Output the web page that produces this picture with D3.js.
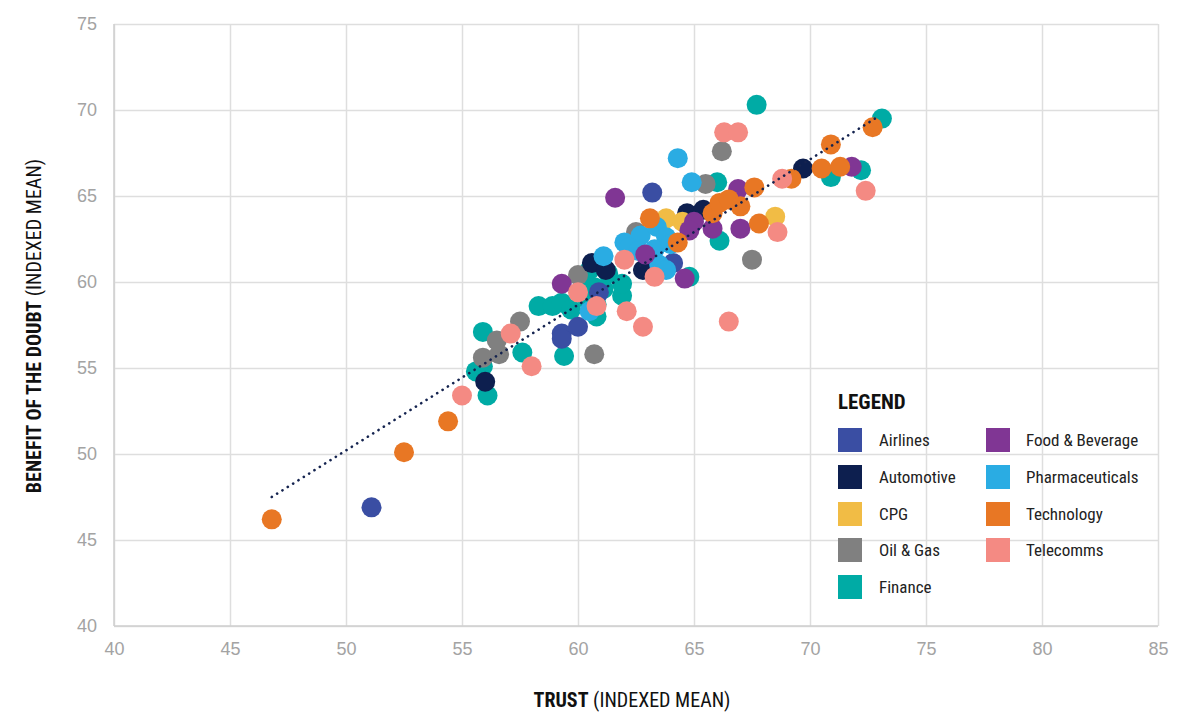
<!DOCTYPE html>
<html>
<head>
<meta charset="utf-8">
<script src="https://cdn.jsdelivr.net/npm/d3@7"></script>
<style>
  body { margin: 0; background: #fff; }
  svg { display: block; }
</style>
</head>
<body>
<div id="chart"></div>
<script>
///////////////////////////////////////////////////////////////////////////
///////////////////////////////// Data ////////////////////////////////////
///////////////////////////////////////////////////////////////////////////
var categories = ["Airlines", "Automotive", "CPG", "Oil & Gas", "Finance",
  "Food & Beverage", "Pharmaceuticals", "Technology", "Telecomms"]
var catColors = ["#3a4ea3", "#0d1f4f", "#f1bc45", "#808080", "#00aba5",
  "#803694", "#2aace3", "#e87724", "#f48a83"]

// [trust, benefit of the doubt]
var airlines = [[51.1,46.9],[63.2,65.2],[59.3,57.0],[59.3,56.7],[60.0,57.4],[60.9,59.4],[64.1,61.1]]
var automotive = [[56.0,54.2],[69.7,66.6],[62.8,60.7],[64.7,64.0],[65.4,64.2],[60.6,61.1],[61.2,60.7]]
var cpg = [[68.5,63.8],[63.8,63.7],[64.5,63.5]]
var oilGas = [[66.2,67.6],[67.5,61.3],[60.7,55.8],[57.5,57.7],[55.9,55.6],[56.5,56.6],[56.6,55.8],
  [62.5,62.9],[60.0,60.4],[65.5,65.7]]
var finance = [[67.7,70.3],[73.1,69.5],[70.9,66.1],[72.2,66.5],[66.0,65.8],[66.1,62.4],[64.8,60.3],
  [55.9,57.1],[56.1,53.4],[57.6,55.9],[59.4,55.7],[58.3,58.6],[58.9,58.6],[59.3,58.8],[59.7,58.4],
  [55.6,54.8],[55.9,55.1],[60.8,58.0],[60.8,58.7],[61.9,59.2],[61.9,59.9],[60.5,60.7],[61.3,60.5],
  [60.7,59.7],[60.4,59.0],[61.1,59.6],[60.2,60.2]]
var foodBev = [[61.6,64.9],[59.3,59.9],[64.6,60.2],[71.8,66.7],[66.9,65.4],[67.0,63.1],[65.8,63.1],
  [65.0,63.5],[64.8,63.0],[62.9,61.6]]
var pharma = [[64.3,67.2],[64.9,65.8],[61.1,61.5],[62.0,62.3],[62.7,62.7],[63.4,63.2],[63.8,62.6],
  [63.3,61.9],[63.5,61.0],[63.8,60.7],[62.2,62.0],[60.5,58.3],[62.6,61.8],[64.0,62.2]]
var technology = [[46.8,46.2],[52.5,50.1],[54.4,51.9],[63.1,63.7],[64.3,62.3],[65.8,64.0],[66.1,64.6],
  [66.5,64.8],[67.0,64.4],[67.6,65.5],[67.8,63.4],[69.2,66.0],[70.5,66.6],[71.3,66.7],[70.9,68.0],[72.7,69.0]]
var telecomms = [[55.0,53.4],[57.1,57.0],[58.0,55.1],[60.0,59.4],[60.8,58.6],[62.0,61.3],[62.1,58.3],
  [62.8,57.4],[63.3,60.3],[66.5,57.7],[66.3,68.7],[66.9,68.7],[68.8,66.0],[68.6,62.9],[72.4,65.3]]

var trendX = [46.8, 72.8]
var trendY = [47.5, 69.5]
var xTicks = [40, 45, 50, 55, 60, 65, 70, 75, 80, 85]
var yTicks = [40, 45, 50, 55, 60, 65, 70, 75]

///////////////////////////////////////////////////////////////////////////
///////////////////////////////// Globals /////////////////////////////////
///////////////////////////////////////////////////////////////////////////
var canvasDim = { width: 1204, height: 712 }
var margin = { top: 24, right: 46, bottom: 86, left: 114 }
var width = canvasDim.width - margin.left - margin.right
var height = canvasDim.height - margin.top - margin.bottom
var radius = 10

var series = {
  "Airlines": airlines, "Automotive": automotive, "CPG": cpg, "Oil & Gas": oilGas,
  "Finance": finance, "Food & Beverage": foodBev, "Pharmaceuticals": pharma,
  "Technology": technology, "Telecomms": telecomms
}
// draw order (last on top)
var drawOrder = ["Finance", "Oil & Gas", "Airlines", "Automotive", "CPG",
  "Pharmaceuticals", "Food & Beverage", "Technology", "Telecomms"]

var colorScale = d3.scaleOrdinal().domain(categories).range(catColors)
var xScale = d3.scaleLinear().domain([40, 85]).range([0, width])
var yScale = d3.scaleLinear().domain([40, 75]).range([height, 0])

var svg = d3.select("#chart").append("svg")
  .attr("width", canvasDim.width)
  .attr("height", canvasDim.height)
  .style("font-family", "'Liberation Sans', Arial, sans-serif")

var g = svg.append("g")
  .attr("transform", "translate(" + margin.left + "," + margin.top + ")")

///////////////////////////////////////////////////////////////////////////
////////////////////////////////// Axes ///////////////////////////////////
///////////////////////////////////////////////////////////////////////////
var xAxis = g.append("g")
  .attr("transform", "translate(0," + height + ")")
  .call(d3.axisBottom(xScale).tickValues(xTicks).tickSize(-height).tickPadding(16))
var yAxis = g.append("g")
  .call(d3.axisLeft(yScale).tickValues(yTicks).tickSize(-width).tickPadding(17))

;[xAxis, yAxis].forEach(ax => {
  ax.select(".domain").remove()
  ax.selectAll("line").attr("stroke", "#dedede").attr("stroke-width", 1.5)
  ax.selectAll("text")
    .attr("fill", "#a3a3a3")
    .style("font-size", "18px")
    .style("font-family", "'Liberation Sans', Arial, sans-serif")
})
xAxis.selectAll("text").attr("dy", "0.71em")

// slightly darker left and bottom edge
g.append("line").attr("x1", 0).attr("x2", 0).attr("y1", 0).attr("y2", height)
  .attr("stroke", "#cfcfcf").attr("stroke-width", 1.5)
g.append("line").attr("x1", 0).attr("x2", width).attr("y1", height).attr("y2", height)
  .attr("stroke", "#cfcfcf").attr("stroke-width", 1.5)

//////////////////////////////// Titles ///////////////////////////////////
var titleFont = "'Liberation Sans Narrow', 'Roboto Condensed', 'Arial Narrow', sans-serif"

var xTitle = svg.append("text")
  .attr("x", 632).attr("y", 707)
  .attr("text-anchor", "middle")
  .style("font-family", titleFont)
  .style("font-size", "20px")
  .attr("fill", "#111")
xTitle.append("tspan").style("font-weight", "bold").text("TRUST")
xTitle.append("tspan").text(" (INDEXED MEAN)")

var yTitle = svg.append("text")
  .attr("transform", "translate(41,326) rotate(-90)")
  .attr("text-anchor", "middle")
  .style("font-family", titleFont)
  .style("font-size", "20px")
  .attr("fill", "#111")
yTitle.append("tspan").style("font-weight", "bold").text("BENEFIT OF THE DOUBT")
yTitle.append("tspan").text(" (INDEXED MEAN)")

///////////////////////////////////////////////////////////////////////////
///////////////////////////////// Points //////////////////////////////////
///////////////////////////////////////////////////////////////////////////
var nodes = []
drawOrder.forEach(cat => {
  series[cat].forEach((d, i) => {
    nodes.push({ id: cat + "-" + i, cat: cat, x: d[0], y: d[1] })
  })
})

g.selectAll("circle.pt")
  .data(nodes, d => d.id)
  .enter()
  .append("circle")
    .attr("class", "pt")
    .attr("cx", d => xScale(d.x))
    .attr("cy", d => yScale(d.y))
    .attr("r", radius)
    .style("fill", d => colorScale(d.cat))

// dotted trend line
g.append("line")
  .attr("x1", xScale(trendX[0])).attr("y1", yScale(trendY[0]))
  .attr("x2", xScale(trendX[1])).attr("y2", yScale(trendY[1]))
  .attr("stroke", "#14234f")
  .attr("stroke-width", 2.6)
  .attr("stroke-linecap", "round")
  .attr("stroke-dasharray", "0.1 6.2")

///////////////////////////////////////////////////////////////////////////
///////////////////////////////// Legend //////////////////////////////////
///////////////////////////////////////////////////////////////////////////
var legend = svg.append("g").attr("transform", "translate(838,0)")

legend.append("text")
  .attr("x", 0).attr("y", 409)
  .style("font-family", titleFont)
  .style("font-size", "21px")
  .style("font-weight", "bold")
  .attr("fill", "#111")
  .text("LEGEND")

var rowY = [440, 477, 514, 550, 587]
var items = legend.selectAll("g.item")
  .data(categories)
  .enter()
  .append("g")
    .attr("class", "item")
    .attr("transform", (d, i) => {
      var col = i < 5 ? 0 : 1
      var row = i < 5 ? i : i - 5
      return "translate(" + (col * 148) + "," + rowY[row] + ")"
    })

items.append("rect")
  .attr("x", 0).attr("y", -12)
  .attr("width", 24).attr("height", 24)
  .style("fill", d => colorScale(d))

items.append("text")
  .attr("x", (d, i) => i < 5 ? 41 : 40)
  .attr("y", 0)
  .attr("dy", "0.35em")
  .style("font-family", titleFont)
  .style("font-size", "17px")
  .attr("fill", "#222")
  .text(d => d)
</script>
</body>
</html>
